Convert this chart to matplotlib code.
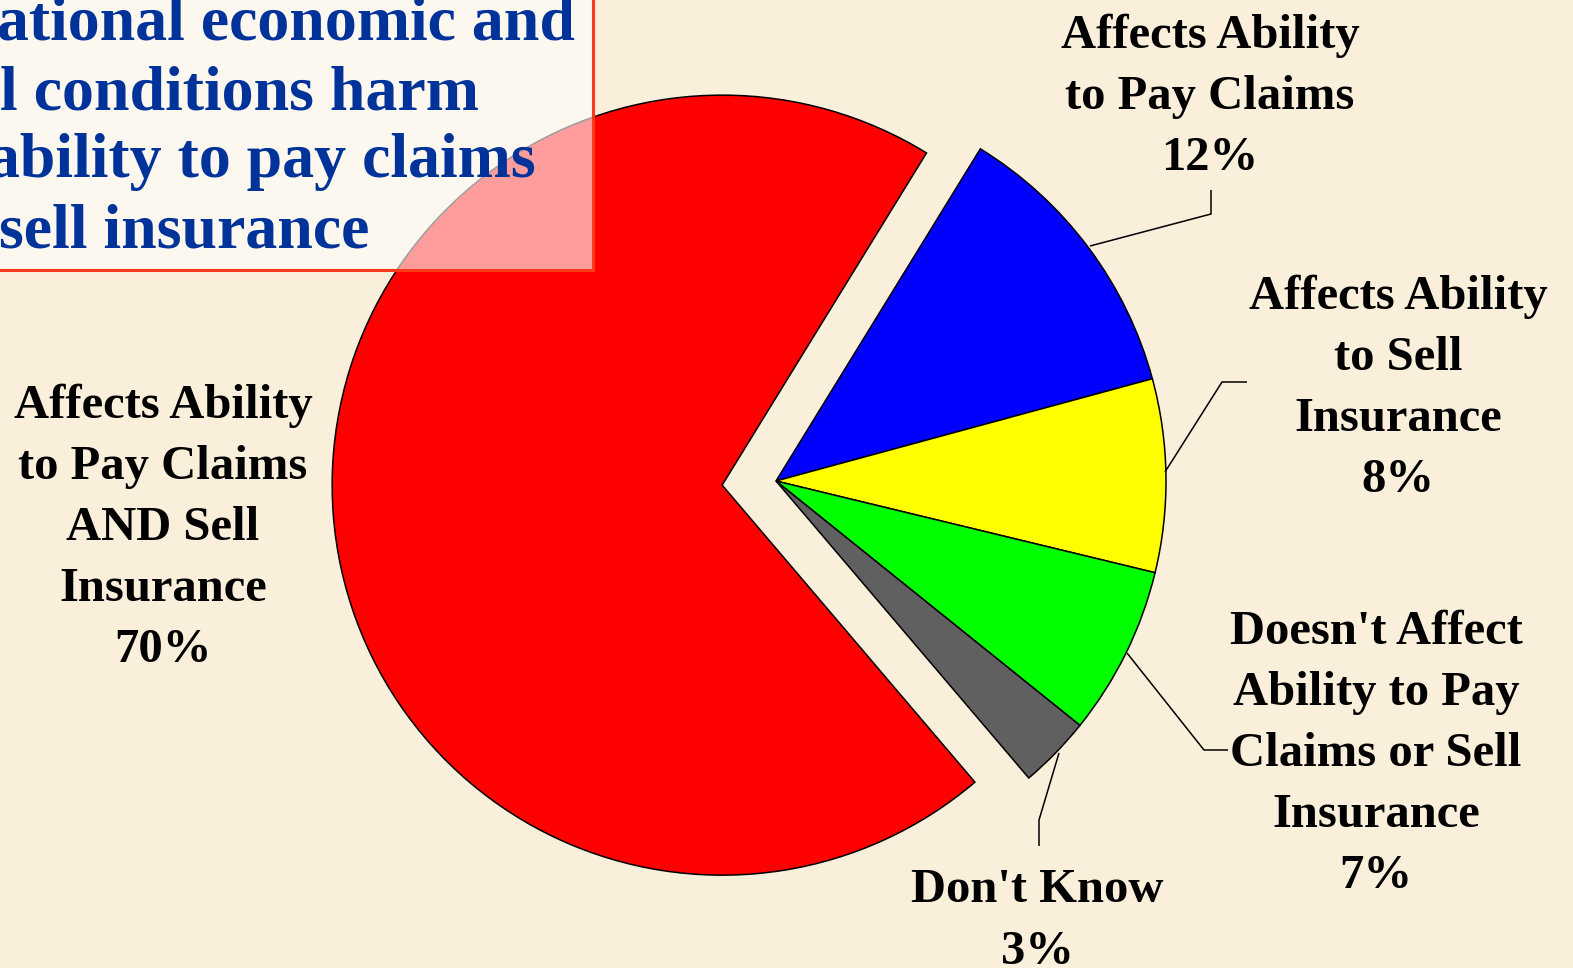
import matplotlib.pyplot as plt
from matplotlib.patches import Rectangle

W, H = 1573, 968

# survey shares, in clockwise order starting at the top-right edge of the blue slice
categories = ['Affects Ability\nto Pay Claims', 'Affects Ability\nto Sell\nInsurance',
              "Doesn't Affect\nAbility to Pay\nClaims or Sell\nInsurance", "Don't Know",
              'Affects Ability\nto Pay Claims\nAND Sell\nInsurance']
shares = [12, 8, 7, 3, 70]
colors = ['#0000FF', '#FFFF00', '#00FF00', '#606060', '#FF0000']
explode = [0, 0, 0, 0, 54]

title_lines = ['ational economic and', 'l conditions harm', 'ability to pay claims', 'sell insurance']

BG = '#F9EFDA'
SERIF = ['Liberation Serif', 'DejaVu Serif']

fig = plt.figure(figsize=(W / 100, H / 100), dpi=100)
fig.patch.set_facecolor(BG)
ax = fig.add_axes([0, 0, 1, 1])

def Y(py):
    # work in screen-like coordinates (y down from the top)
    return H - py

ax.pie(shares, colors=colors, explode=explode, startangle=58.4, counterclock=False,
       center=(776, Y(481)), radius=390, frame=True,
       wedgeprops=dict(edgecolor='black', linewidth=1.1))
ax.set_xlim(0, W)
ax.set_ylim(0, H)
ax.axis('off')

# label blocks: (x centre, y centre) in screen pixels
label_pos = [(1210, 97), (1398, 388), (1376, 754), (1037, 921), (163, 528)]
for cat, val, (lx, ly) in zip(categories, shares, label_pos):
    ax.text(lx, Y(ly), f'{cat}\n{val}%', ha='center', va='center', multialignment='center',
            fontsize=35, fontweight='bold', family=SERIF, linespacing=1.5, zorder=5)

# leader lines
leaders = [
    [(1090, 246), (1211, 214), (1211, 190)],
    [(1165, 472), (1222, 382), (1247, 382)],
    [(1127, 653), (1204, 750), (1228, 750)],
    [(1059, 753), (1039, 820), (1039, 846)],
]
for pts in leaders:
    xs = [p[0] for p in pts]
    ys = [Y(p[1]) for p in pts]
    ax.plot(xs, ys, color='black', lw=1.1, zorder=4, solid_capstyle='butt')

# title panel, partly see-through over the pie
ax.add_patch(Rectangle((-10, Y(270)), 603, 300, facecolor='white', alpha=0.62,
                       edgecolor='none', zorder=6))
ax.add_patch(Rectangle((-10, Y(270)), 603, 300, facecolor='none',
                       edgecolor='#FF3A1A', lw=2.2, zorder=7))
for line, (tx, by) in zip(title_lines, [(-3, 40), (0, 110), (-12, 177), (-1, 247)]):
    ax.text(tx, Y(by), line, ha='left', va='baseline', fontsize=46, fontweight='bold',
            family=SERIF, color='#003399', zorder=8)

fig.savefig('out.png', dpi=100, facecolor=BG)
